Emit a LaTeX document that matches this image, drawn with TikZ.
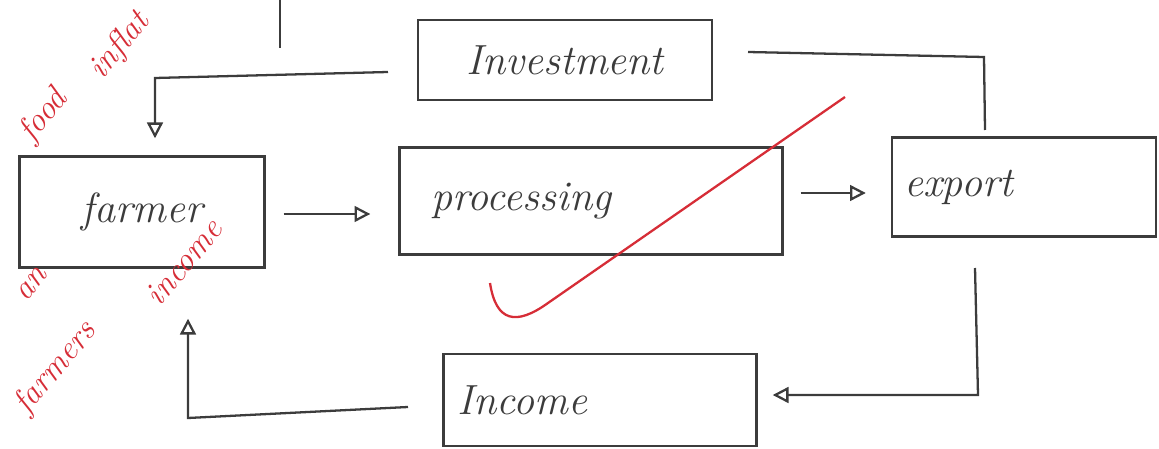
\documentclass[tikz,border=0pt]{standalone}
\usetikzlibrary{arrows.meta,calc}
\definecolor{ink}{RGB}{60,60,60}
\definecolor{checkred}{RGB}{214,45,55}
\tikzset{
  box/.style={draw=ink, line width=1.4pt, inner ysep=0pt, minimum height=#1,
    font=\fontsize{24}{28}\selectfont\itshape, text=ink},
  conn/.style={draw=ink, line width=1.3pt},
  arr/.style={conn, -{Triangle[open, length=9pt, width=9pt, line width=1.3pt]}},
  redtext/.style={text=checkred, font=\fontsize{19}{22}\selectfont\itshape, inner sep=0pt, rotate=50}
}
\begin{document}
\begin{tikzpicture}[x=0.02cm, y=-0.02cm]
\useasboundingbox (0,0) rectangle (1159,449);
% boxes
\node[box=1.6cm, minimum width=5.88cm, align=center] (inv) at (565,60) {Investment};
\node[box=2.22cm, minimum width=4.9cm, align=center] (farmer) at (142,212) {farmer};
\node[box=2.14cm, inner xsep=0.64cm, text width=6.38cm, align=left] (proc) at (591,201) {processing};
\node[box=1.98cm, inner xsep=0.24cm, text width=4.8cm, align=left] (exp) at (1024,187) {export};
\node[box=1.84cm, inner xsep=0.28cm, text width=5.7cm, align=left] (inc) at (600,400) {Income};
% connector coordinates
\coordinate (a1) at (388,72);
\coordinate (a2) at (155,78);
\coordinate (b1) at (748,52);
\coordinate (b2) at (984,57);
\coordinate (b3) at (985,130);
\coordinate (c1) at (975,268);
\coordinate (c2) at (978,395);
\coordinate (d1) at (408,407);
\coordinate (d2) at (188,418);
\coordinate (e1) at (280,0);
\coordinate (e2) at (280,48);
% connectors
\draw[arr, shorten >=0.34cm] (a1) -- (a2) -- (a2 |- farmer.north);
\draw[conn] (b1) -- (b2) -- (b3);
\draw[arr, shorten <=0.36cm, shorten >=0.56cm] ([yshift=-0.04cm]farmer.east) -- ([yshift=-0.04cm]farmer.east -| proc.west);
\draw[arr, shorten <=0.34cm, shorten >=0.5cm] ([yshift=0.16cm]proc.east) -- ([yshift=0.16cm]proc.east -| exp.west);
\draw[arr, shorten >=0.3cm] (c1) -- (c2) -- (c2 -| inc.east);
\draw[arr, shorten >=1cm] (d1) -- (d2) -- (d2 |- farmer.south);
\draw[conn] (e1) -- (e2);
% red marking
\draw[checkred, line width=1.3pt] (490,283) .. controls (496,322) and (516,326) .. (548,303) -- (845,97);
\node[redtext] (food) at (44,116) {food};
\node[redtext] (inflat) at (120,46) {inflat};
\node[redtext] (an) at (32,284) {an};
\node[redtext] (farmers) at (56,368) {farmers};
\node[redtext] (income) at (184,262) {income};
\end{tikzpicture}
\end{document}
